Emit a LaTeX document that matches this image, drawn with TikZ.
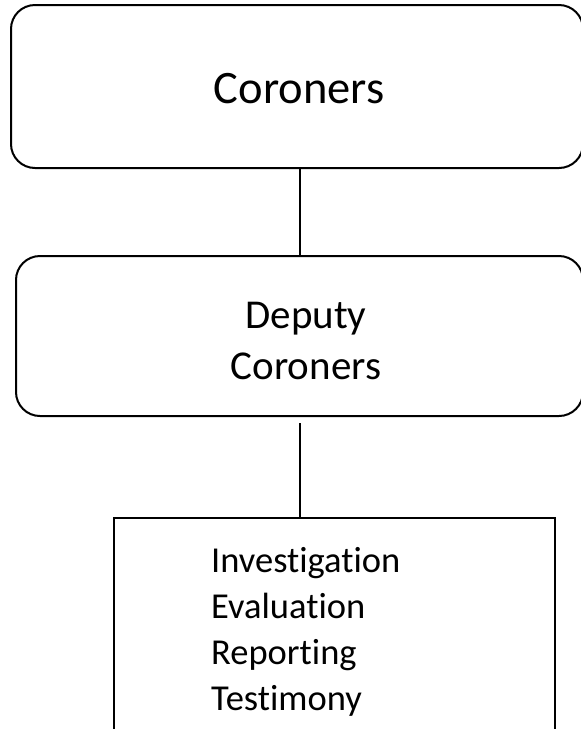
\documentclass[tikz,border=0pt]{standalone}
\usepackage{fontspec}
\setmainfont{Carlito}[Ligatures=NoCommon]
\begin{document}
\begin{tikzpicture}[x=1pt,y=-1pt,
  frame/.style={draw, line width=2pt, inner sep=0pt},
  rbox/.style={frame, rounded corners=24pt},
  conn/.style={draw, line width=2pt},
  label/.style={inner sep=0pt, anchor=base}]
\useasboundingbox (0,0) rectangle (581,729);
\node[rbox, minimum width=572pt, minimum height=163pt] (b1) at (297,86.5) {};
\node[label, font=\fontsize{46.5}{56}\selectfont] (t1) at (299,103) {Coroners};
\node[rbox, minimum width=567pt, minimum height=160pt] (b2) at (299.5,336) {};
\node[label, align=center, font=\fontsize{41}{51}\selectfont] (t2) at (306,379) {Deputy\\Coroners};
\node[frame, minimum width=441pt, minimum height=240pt, anchor=north west] (b3) at (113,517) {};
\node[label, anchor=base west, align=left,
      font=\fontsize{36.5}{46}\selectfont] (t3) at (211,710)
  {Investigation\\Evaluation\\Reporting\\Testimony};
\draw[conn] (b2.north) -- (b2.north |- b1.south);
\draw[conn, shorten <=6pt] (b2.south) -- (b2.south |- b3.north);
\end{tikzpicture}
\end{document}
